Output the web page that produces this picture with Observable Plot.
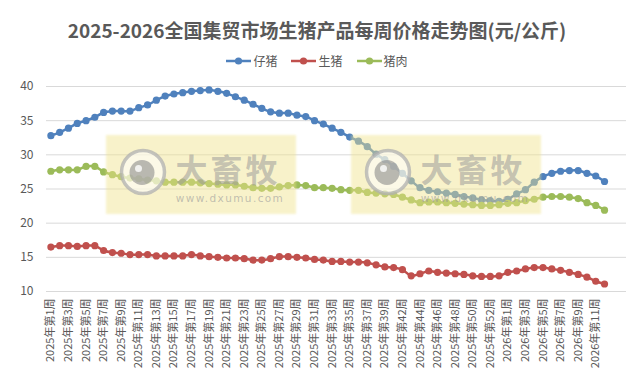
<!DOCTYPE html>
<html>
<head>
<meta charset="utf-8">
<script src="https://cdn.jsdelivr.net/npm/d3@7"></script>
<script src="https://cdn.jsdelivr.net/npm/@observablehq/plot@0.6"></script>
<style>
  html, body { margin: 0; padding: 0; background: #fff; }
  #wrap { position: relative; width: 634px; height: 378px; overflow: hidden; font-family: "Noto Sans CJK SC", "Noto Sans", sans-serif; }
  #title { box-sizing: border-box; height: 48px; padding-top: 18px; line-height: 24px; text-align: center; font-size: 19px; font-weight: bold; color: #595959; white-space: nowrap; }
  #legend { height: 26px; line-height: 26px; display: flex; justify-content: center; align-items: center; font-size: 12px; color: #595959; }
  .item { display: flex; align-items: center; margin: 0 7px; }
  .item svg { margin-right: 2px; }
  #overlay { position: absolute; left: 0; top: 0; pointer-events: none; }
</style>
</head>
<body>
<div id="wrap">
  <div id="title">2025-2026全国集贸市场生猪产品每周价格走势图(元/公斤)</div>
  <div id="legend"></div>
  <div id="chart"></div>
</div>
<script>
// ---- data ----
const categories = [
  "2025年第1周","2025年第2周","2025年第3周","2025年第4周","2025年第5周","2025年第6周","2025年第7周","2025年第8周","2025年第9周","2025年第10周",
  "2025年第11周","2025年第12周","2025年第13周","2025年第14周","2025年第15周","2025年第16周","2025年第17周","2025年第18周","2025年第19周","2025年第20周",
  "2025年第21周","2025年第22周","2025年第23周","2025年第24周","2025年第25周","2025年第26周","2025年第27周","2025年第28周","2025年第29周","2025年第30周",
  "2025年第31周","2025年第32周","2025年第33周","2025年第34周","2025年第35周","2025年第36周","2025年第37周","2025年第38周","2025年第39周","2025年第41周",
  "2025年第42周","2025年第43周","2025年第44周","2025年第45周","2025年第46周","2025年第47周","2025年第48周","2025年第49周","2025年第50周","2025年第51周",
  "2025年第52周","2025年第53周","2026年第1周","2026年第2周","2026年第3周","2026年第4周","2026年第5周","2026年第6周","2026年第7周","2026年第8周",
  "2026年第9周","2026年第10周","2026年第11周","2026年第12周","",""
];
const seriesNames = ["仔猪", "生猪", "猪肉"];
const seriesColors = ["#4f81bd", "#c0504d", "#9bbb59"];
const piglet = [
  32.8,33.3,33.9,34.6,35.0,35.5,36.2,36.4,36.4,36.4,
  36.9,37.3,38.0,38.6,38.9,39.1,39.3,39.4,39.5,39.3,
  39.0,38.5,38.0,37.4,36.8,36.3,36.1,36.1,35.8,35.6,
  35.0,34.5,33.9,33.3,32.6,32.0,31.2,30.1,29.3,28.3,
  27.3,26.2,25.2,24.8,24.6,24.4,24.2,23.9,23.7,23.4,
  23.3,23.2,23.5,24.3,24.9,26.0,26.8,27.3,27.6,27.7,
  27.7,27.3,26.9,26.1
];
const hog = [
  16.5,16.7,16.7,16.6,16.7,16.7,16.0,15.7,15.6,15.4,
  15.4,15.4,15.2,15.2,15.2,15.2,15.4,15.2,15.1,15.0,
  14.9,14.9,14.8,14.6,14.6,14.8,15.1,15.1,15.0,14.9,
  14.7,14.6,14.4,14.4,14.3,14.3,14.2,13.9,13.6,13.5,
  13.2,12.3,12.6,13.0,12.8,12.7,12.6,12.5,12.3,12.2,
  12.2,12.3,12.8,13.0,13.3,13.5,13.5,13.3,13.1,12.8,
  12.5,12.1,11.5,11.1
];
const pork = [
  27.6,27.8,27.8,27.8,28.3,28.3,27.5,27.1,26.8,26.6,
  26.5,26.3,26.2,26.0,26.0,26.0,26.0,25.9,25.8,25.7,
  25.6,25.6,25.4,25.2,25.1,25.1,25.3,25.5,25.6,25.5,
  25.2,25.2,25.1,24.9,24.8,24.8,24.5,24.4,24.3,24.2,
  23.8,23.4,23.0,23.1,23.1,23.0,22.9,22.8,22.7,22.6,
  22.6,22.7,22.9,23.0,23.3,23.5,23.8,23.9,23.9,23.8,
  23.6,23.0,22.6,21.9
];
const yTicks = [10, 15, 20, 25, 30, 35, 40];

// ---- build table ----
const seriesValues = [piglet, hog, pork];
const rows = seriesNames.flatMap((s, k) => seriesValues[k].map((v, i) => ({ s, i, v })));
const xTicks = d3.range(0, categories.length, 2);

// ---- legend ----
const legend = document.getElementById("legend");
seriesNames.forEach((n, k) => {
  const it = document.createElement("div");
  it.className = "item";
  it.innerHTML = `<svg width="25" height="10"><line x1="0" x2="25" y1="5" y2="5" stroke="${seriesColors[k]}" stroke-width="2.5"/><circle cx="12.5" cy="5" r="3.6" fill="${seriesColors[k]}"/></svg><span>${n}</span>`;
  legend.appendChild(it);
});

// ---- chart ----
const chart = Plot.plot({
  width: 634,
  height: 304,
  marginLeft: 46,
  marginRight: 8,
  marginTop: 12,
  marginBottom: 87,
  style: { fontFamily: "'Noto Sans CJK SC', 'Noto Sans', sans-serif", color: "#595959", background: "#fff", overflow: "visible" },
  x: { type: "linear", domain: [-0.5, categories.length - 0.5] },
  y: { domain: [10, 40] },
  color: { domain: seriesNames, range: seriesColors },
  marks: [
    Plot.ruleY(yTicks, { stroke: "#d9d9d9", strokeWidth: 1 }),
    Plot.axisY({ ticks: yTicks, tickSize: 0, tickPadding: 13, fontSize: 12, fill: "#595959", label: null }),
    Plot.axisX({ ticks: xTicks, tickSize: 0, tickPadding: 7, tickRotate: -90, fontSize: 11, fill: "#595959", label: null, tickFormat: i => categories[i] }),
    Plot.line(rows, { x: "i", y: "v", z: "s", stroke: "s", strokeWidth: 2.5, curve: "catmull-rom" }),
    Plot.dot(rows, { x: "i", y: "v", fill: "s", r: 3.6 })
  ]
});
document.getElementById("chart").appendChild(chart);

// ---- watermark overlay (decoration) ----
const ns = "http://www.w3.org/2000/svg";
const ov = document.createElementNS(ns, "svg");
ov.setAttribute("id", "overlay");
ov.setAttribute("width", 634);
ov.setAttribute("height", 378);
let html = `<defs><filter id="soft" x="-5%" y="-5%" width="110%" height="110%"><feGaussianBlur stdDeviation="1.2"/></filter></defs>`;
[106, 351].forEach(x0 => {
  html += `<g>
    <rect x="${x0}" y="135" width="190" height="79" fill="#efe38a" fill-opacity="0.45" filter="url(#soft)"/>
    <circle cx="${x0 + 37}" cy="172" r="21.5" fill="#ffffff" fill-opacity="0.55" stroke="#b0b0b0" stroke-opacity="0.75" stroke-width="3.5"/>
    <circle cx="${x0 + 36}" cy="172.5" r="12.5" fill="#8c8c8c" fill-opacity="0.6"/>
    <circle cx="${x0 + 32.5}" cy="168.5" r="3.5" fill="#ffffff" fill-opacity="0.8"/>
    <text x="${x0 + 122}" y="181.5" text-anchor="middle" font-family="'Noto Sans CJK SC'" font-weight="bold" font-size="32" fill="#9a9a9a" fill-opacity="0.55" letter-spacing="3">大畜牧</text>
    <text x="${x0 + 124}" y="202" text-anchor="middle" font-family="'DejaVu Sans', sans-serif" font-size="10.5" fill="#9a9a9a" fill-opacity="0.6" letter-spacing="1.4">www.dxumu.com</text>
  </g>`;
});
ov.innerHTML = html;
document.getElementById("wrap").appendChild(ov);
</script>
</body>
</html>
